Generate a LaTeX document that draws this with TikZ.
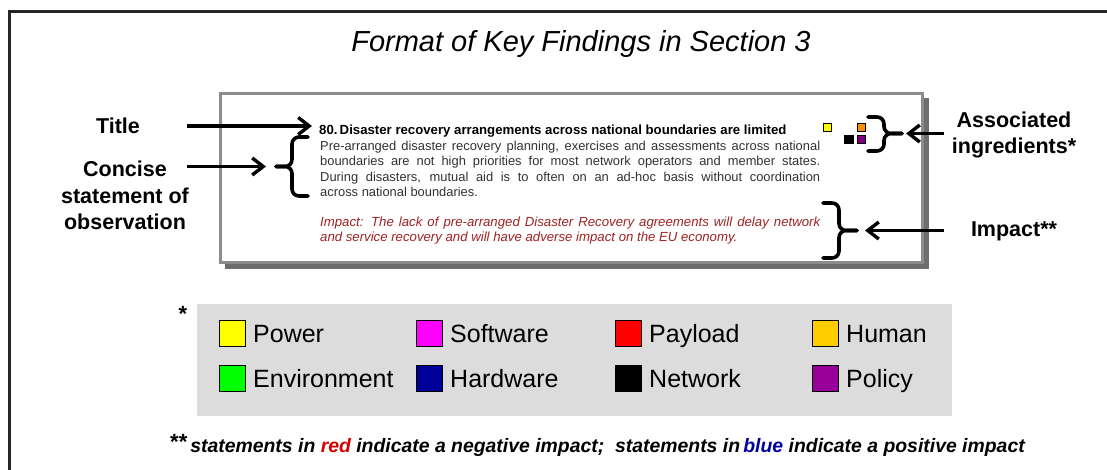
\documentclass[tikz,border=0pt]{standalone}
\usepackage{fontspec}
\setmainfont{Liberation Sans}
\usetikzlibrary{arrows.meta}
\definecolor{boxgray}{RGB}{140,140,140}
\definecolor{shadowgray}{RGB}{110,110,110}
\definecolor{legendgray}{RGB}{220,220,220}
\definecolor{bodytext}{RGB}{50,50,50}
\definecolor{impactred}{RGB}{160,35,35}
\definecolor{notered}{RGB}{210,0,0}
\definecolor{noteblue}{RGB}{0,0,160}
\definecolor{cPower}{RGB}{255,255,0}
\definecolor{cSoftware}{RGB}{255,0,255}
\definecolor{cPayload}{RGB}{255,0,0}
\definecolor{cHuman}{RGB}{255,204,0}
\definecolor{cEnvironment}{RGB}{0,255,0}
\definecolor{cHardware}{RGB}{0,0,153}
\definecolor{cNetwork}{RGB}{0,0,0}
\definecolor{cPolicy}{RGB}{153,0,153}
\definecolor{cOrange}{RGB}{255,140,0}
\definecolor{cPurple}{RGB}{128,0,128}
\begin{document}
\begin{tikzpicture}[x=1pt,y=-1pt,
  lbl/.style={font=\bfseries\fontsize{21.5}{26.5}\selectfont, align=center, inner sep=0pt},
  pointer/.style={line width=3.4pt, -{Straight Barb[length=11pt,width=17pt,line width=3.4pt]}},
  curly/.style={line width=3.6pt, rounded corners=7pt, line cap=round},
  chip/.style={draw=black, line width=0.6pt, minimum size=8.5pt, inner sep=0pt},
  key/.style={draw=black, line width=0.9pt, minimum size=26pt, inner sep=0pt, anchor=north west},
  keytext/.style={anchor=base west, font=\fontsize{25}{25}\selectfont, inner sep=0pt},
  bodyline/.style={anchor=base west, inner sep=0pt, text=bodytext, font=\fontsize{12.9}{14}\selectfont},
  impactline/.style={anchor=base west, inner sep=0pt, text=impactred, font=\itshape\fontsize{13.2}{14}\selectfont}]
\useasboundingbox (0,0) rectangle (1107,469);
\fill[white] (0,0) rectangle (1107,469);

% outer frame (runs off the page to the right and bottom)
\draw[line width=3pt, black!85] (9,480) -- (9,11) -- (1120,11);

% heading
\node[font=\itshape\fontsize{29}{30}\selectfont, inner sep=0pt] (heading) at (581,44) {Format of Key Findings in Section 3};

% sample finding box with drop shadow
\draw[shadowgray, fill=shadowgray, line width=3pt] (226,99) rectangle (927,267);
\draw[boxgray, fill=white, line width=3pt] (220,93) rectangle (922,262);

\node[anchor=base west, inner sep=0pt, font=\bfseries\fontsize{13.2}{14}\selectfont] (ftitle) at (319,134)
  {80.\,Disaster recovery arrangements across national boundaries are limited};
\node[bodyline] (fbody1) at (320,150) {\makebox[500pt][s]{Pre-arranged disaster recovery planning, exercises and assessments across national}};
\node[bodyline] (fbody2) at (320,165.5) {\makebox[500pt][s]{boundaries are not high priorities for most network operators and member states.}};
\node[bodyline] (fbody3) at (320,181) {\makebox[500pt][s]{During disasters, mutual aid is to often on an ad-hoc basis without coordination}};
\node[bodyline] (fbody4) at (320,196) {across national boundaries.};
\node[impactline] (fimp1) at (320,226) {\makebox[500pt][s]{Impact: The lack of pre-arranged Disaster Recovery agreements will delay network}};
\node[impactline] (fimp2) at (320,241.5) {and service recovery and will have adverse impact on the EU economy.};

% ingredient markers
\node[chip, fill=cPower] (mPower) at (827.5,127.5) {};
\node[chip, fill=cOrange] (mHuman) at (861.5,127.5) {};
\node[chip, fill=cNetwork] (mNetwork) at (849,139.5) {};
\node[chip, fill=cPurple] (mPolicy) at (861.5,139.5) {};

% braces
\draw[curly] (308,137) -- (292,137) -- (292,166.5) -- (276,166.5);
\draw[curly] (308,196) -- (292,196) -- (292,166.5) -- (276,166.5);
\draw[curly] (868,117) -- (884,117) -- (884,133.5) -- (902,133.5);
\draw[curly] (868,151) -- (884,151) -- (884,133.5) -- (902,133.5);
\draw[curly] (823,203) -- (839,203) -- (839,230.5) -- (857,230.5);
\draw[curly] (823,258) -- (839,258) -- (839,230.5) -- (857,230.5);

% side labels
\node[lbl] (lTitle) at (118,126) {Title};
\node[lbl] (lConcise) at (125,195.5) {Concise\\statement of\\observation};
\node[lbl] (lIngr) at (1014,135) {Associated\\ingredients*};
\node[lbl] (lImpact) at (1014,231) {Impact**};

\coordinate (aTitleTail) at (187,126);
\coordinate (aTitleHead) at (312,126);
\coordinate (aConciseTail) at (187,166.5);
\coordinate (aConciseHead) at (266,166.5);
\coordinate (aIngrTail) at (944,133.5);
\coordinate (aIngrHead) at (906,133.5);
\coordinate (aImpactTail) at (944,230.5);
\coordinate (aImpactHead) at (865,230.5);
\draw[pointer] (aTitleTail) -- (aTitleHead);
\draw[pointer] (aConciseTail) -- (aConciseHead);
\draw[pointer] (aIngrTail) -- (aIngrHead);
\draw[pointer] (aImpactTail) -- (aImpactHead);

% legend of ingredients
\fill[legendgray] (197,304) rectangle (952,416);
\node[font=\bfseries\fontsize{22}{22}\selectfont, inner sep=0pt] (star) at (183,314) {*};

\node[key, fill=cPower] (kPower) at (219,320) {};
\node[keytext] at (253,342) {Power};
\node[key, fill=cSoftware] (kSoftware) at (416,320) {};
\node[keytext] at (450,342) {Software};
\node[key, fill=cPayload] (kPayload) at (615,320) {};
\node[keytext] at (649,342) {Payload};
\node[key, fill=cHuman] (kHuman) at (812,320) {};
\node[keytext] at (846,342) {Human};

\node[key, fill=cEnvironment] (kEnvironment) at (219,365) {};
\node[keytext] at (253,387) {Environment};
\node[key, fill=cHardware] (kHardware) at (416,365) {};
\node[keytext] at (450,387) {Hardware};
\node[key, fill=cNetwork] (kNetwork) at (615,365) {};
\node[keytext] at (649,387) {Network};
\node[key, fill=cPolicy] (kPolicy) at (812,365) {};
\node[keytext] at (846,387) {Policy};

% footnote
\node[anchor=base west, inner sep=0pt] (note) at (170,452)
  {\raisebox{3pt}{\bfseries\fontsize{22}{22}\selectfont **}\hspace{3pt}\bfseries\itshape\fontsize{19.4}{20}\selectfont statements in \textcolor{notered}{red} indicate a negative impact;\ \ statements in\,\textcolor{noteblue}{blue} indicate a positive impact};
\end{tikzpicture}
\end{document}
